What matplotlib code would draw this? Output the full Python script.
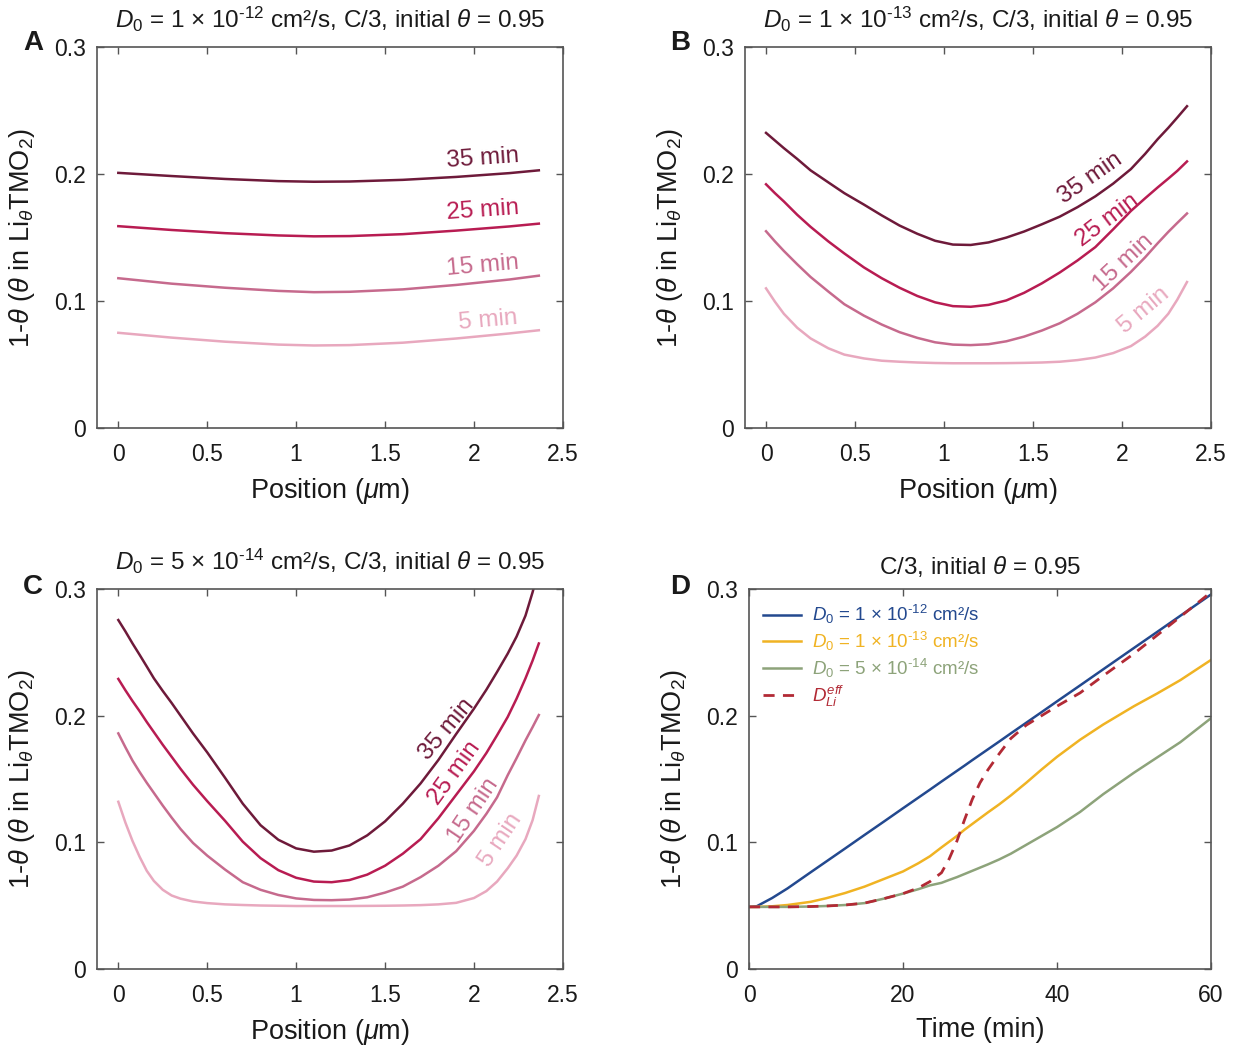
import matplotlib
matplotlib.use('Agg')
import matplotlib.pyplot as plt
import numpy as np

plt.rcParams['font.family'] = ['Liberation Sans', 'DejaVu Sans']
plt.rcParams['mathtext.fontset'] = 'custom'
plt.rcParams['mathtext.rm'] = 'Liberation Sans'
plt.rcParams['mathtext.it'] = 'Liberation Sans:italic'
plt.rcParams['mathtext.bf'] = 'Liberation Sans:bold'

# ---- data ----
times = ['35 min', '25 min', '15 min', '5 min']
colors = ['#6e1a3a', '#b81c52', '#c66a8d', '#e8a8be']

# panel A: D0 = 1e-12
xA = [0, 0.3, 0.6, 0.9, 1.1, 1.3, 1.6, 1.9, 2.2, 2.365]
yA_35 = [0.201, 0.1985, 0.1962, 0.1945, 0.194, 0.1942, 0.1955, 0.1978, 0.2008, 0.203]
yA_25 = [0.159, 0.156, 0.1535, 0.1517, 0.151, 0.1512, 0.1527, 0.1555, 0.1588, 0.161]
yA_15 = [0.118, 0.1137, 0.1105, 0.108, 0.107, 0.1073, 0.1092, 0.1127, 0.117, 0.120]
yA_5 = [0.075, 0.0712, 0.068, 0.0657, 0.065, 0.0653, 0.0672, 0.0705, 0.0745, 0.077]

# panel B: D0 = 1e-13
xB = [0, 0.05, 0.1, 0.175, 0.25, 0.35, 0.44, 0.55, 0.65, 0.75, 0.85, 0.95, 1.05, 1.15,
      1.25, 1.35, 1.45, 1.55, 1.65, 1.75, 1.85, 1.95, 2.05, 2.13, 2.2, 2.26, 2.31, 2.365]
yB_35 = [0.2325, 0.2265, 0.2205, 0.212, 0.203, 0.1935, 0.185, 0.176, 0.1675, 0.1595, 0.153, 0.1475, 0.1445, 0.1442,
         0.1462, 0.150, 0.1548, 0.1605, 0.1665, 0.174, 0.1825, 0.1925, 0.204, 0.216, 0.2275, 0.2365, 0.2445, 0.2535]
yB_25 = [0.192, 0.185, 0.1785, 0.168, 0.1585, 0.147, 0.1375, 0.1265, 0.118, 0.1105, 0.104, 0.099, 0.096, 0.0955,
         0.097, 0.1005, 0.1065, 0.114, 0.1225, 0.132, 0.1425, 0.1565, 0.171, 0.181, 0.1895, 0.1965, 0.2025, 0.210]
yB_15 = [0.155, 0.147, 0.1395, 0.129, 0.119, 0.1075, 0.0975, 0.0885, 0.0815, 0.0755, 0.071, 0.0675, 0.0657, 0.0653,
         0.066, 0.0683, 0.072, 0.0768, 0.0825, 0.090, 0.099, 0.110, 0.123, 0.1345, 0.1455, 0.1545, 0.1615, 0.169]
yB_5 = [0.110, 0.0995, 0.090, 0.079, 0.0706, 0.0628, 0.0578, 0.0548, 0.053, 0.0522, 0.0516, 0.0512, 0.051, 0.051,
        0.051, 0.0511, 0.0513, 0.0516, 0.0522, 0.0535, 0.0555, 0.059, 0.0645, 0.072, 0.0805, 0.090, 0.101, 0.115]

# panel C: D0 = 5e-14
xC = [0, 0.04, 0.08, 0.12, 0.16, 0.2, 0.25, 0.3, 0.35, 0.42, 0.5, 0.6, 0.7, 0.8, 0.9, 1.0, 1.1,
      1.2, 1.3, 1.4, 1.5, 1.6, 1.7, 1.8, 1.9, 2.0, 2.07, 2.13, 2.19, 2.24, 2.29, 2.33, 2.365]
yC_35 = [0.2755, 0.2665, 0.257, 0.248, 0.2388, 0.2295, 0.2195, 0.21, 0.20, 0.186, 0.171, 0.151, 0.1305, 0.1135, 0.102, 0.0952, 0.0926,
         0.0935, 0.0975, 0.1055, 0.1165, 0.1305, 0.1465, 0.165, 0.1855, 0.2055, 0.2205, 0.2345, 0.249, 0.2625, 0.279, 0.2975, 0.316]
yC_25 = [0.229, 0.220, 0.2115, 0.2035, 0.195, 0.187, 0.177, 0.1675, 0.158, 0.1455, 0.1325, 0.117, 0.1005, 0.0875, 0.078, 0.072, 0.069,
         0.0685, 0.0702, 0.0745, 0.0815, 0.091, 0.1025, 0.119, 0.1375, 0.156, 0.1705, 0.1845, 0.199, 0.2135, 0.2295, 0.2435, 0.257]
yC_15 = [0.186, 0.175, 0.1645, 0.1555, 0.147, 0.139, 0.129, 0.1195, 0.1105, 0.0995, 0.0895, 0.0785, 0.0685, 0.0625, 0.0584, 0.0557, 0.0545,
         0.0543, 0.0548, 0.0566, 0.0603, 0.065, 0.0725, 0.0815, 0.093, 0.109, 0.1225, 0.1355, 0.153, 0.1665, 0.1805, 0.191, 0.2005]
yC_5 = [0.132, 0.1155, 0.101, 0.0885, 0.0775, 0.0695, 0.0625, 0.058, 0.0555, 0.0533, 0.052, 0.051, 0.0505, 0.0501, 0.0499, 0.0497, 0.0497,
        0.0497, 0.0497, 0.0498, 0.0499, 0.0501, 0.0504, 0.051, 0.0522, 0.056, 0.0615, 0.069, 0.0795, 0.0895, 0.1025, 0.1175, 0.1366]

# panel D: time evolution (min)
tD = [0, 1, 3, 5, 8, 10, 12.5, 15, 17.5, 20, 22, 23.5, 25, 26, 27, 28, 29, 30, 31, 32.5,
      34, 36, 38, 40, 43, 46, 50, 53, 56, 60]
yD_12 = [0.049, 0.0495, 0.056, 0.0636, 0.0763, 0.0847, 0.0952, 0.1058, 0.1163, 0.1269, 0.1353, 0.1416, 0.148, 0.1522,
         0.1564, 0.1606, 0.1649, 0.1691, 0.1733, 0.1796, 0.186, 0.1944, 0.2028, 0.2113, 0.2239, 0.2366, 0.2535, 0.2661, 0.2788, 0.2957]
yD_13 = [0.049, 0.049, 0.0495, 0.0505, 0.053, 0.0558, 0.060, 0.065, 0.071, 0.077, 0.0835, 0.089, 0.096, 0.1005,
         0.105, 0.110, 0.1145, 0.119, 0.1235, 0.130, 0.137, 0.147, 0.1575, 0.1675, 0.181, 0.193, 0.2075, 0.2175, 0.228, 0.244]
yD_514 = [0.049, 0.049, 0.049, 0.049, 0.0493, 0.0497, 0.0505, 0.052, 0.0555, 0.0595, 0.063, 0.066, 0.068, 0.0703,
          0.0725, 0.075, 0.0775, 0.080, 0.0825, 0.0865, 0.091, 0.098, 0.105, 0.112, 0.124, 0.138, 0.155, 0.167, 0.179, 0.198]
yD_eff = [0.049, 0.049, 0.049, 0.049, 0.0493, 0.0497, 0.0505, 0.052, 0.0555, 0.0595, 0.064, 0.069, 0.076, 0.087,
          0.101, 0.118, 0.134, 0.147, 0.157, 0.170, 0.182, 0.1925, 0.200, 0.2075, 0.218, 0.2315, 0.249, 0.2635, 0.278, 0.2975]

ylab = r'1-$\mathit{\theta}$ ($\mathit{\theta}$ in Li$_{\mathit{\theta}}$TMO$_2$)'
th = r'$\mathit{\theta}$'
titles = [r'$D_{\mathit{0}}$ = 1 × 10$^{‐12}$ cm²/s, C/3, initial ' + th + ' = 0.95',
          r'$D_{\mathit{0}}$ = 1 × 10$^{‐13}$ cm²/s, C/3, initial ' + th + ' = 0.95',
          r'$D_{\mathit{0}}$ = 5 × 10$^{‐14}$ cm²/s, C/3, initial ' + th + ' = 0.95',
          'C/3, initial ' + th + ' = 0.95']

fig = plt.figure(figsize=(12.37, 10.49), dpi=100)
axA = fig.add_axes([0.0784, 0.592, 0.3766, 0.363])
axB = fig.add_axes([0.602, 0.592, 0.377, 0.363])
axC = fig.add_axes([0.0784, 0.0763, 0.3766, 0.3622])
axD = fig.add_axes([0.6055, 0.0763, 0.3735, 0.3622])

edge = '#555555'
ink = '#1a1a1a'
def style(ax):
    for s in ax.spines.values():
        s.set_color(edge)
        s.set_linewidth(1.2)
    ax.tick_params(direction='in', top=True, right=True, length=5, width=1,
                   color=edge, labelsize=16.5, labelcolor=ink)
    ax.tick_params(axis='x', pad=11)
    ax.tick_params(axis='y', pad=8)
    ax.set_ylim(0, 0.3)
    ax.set_yticks([0, 0.1, 0.2, 0.3])
    ax.set_yticklabels(['0', '0.1', '0.2', '0.3'])
    ax.set_ylabel(ylab, fontsize=19.5, labelpad=12, color=ink)

# label positions / rotations for the position panels
lab_A = [(2.05, 0.212, 4), (2.05, 0.171, 4), (2.05, 0.1276, 5), (2.08, 0.085, 5)]
lab_B = [(1.82, 0.197, 35), (1.92, 0.1638, 37), (2.01, 0.1305, 43), (2.12, 0.093, 40)]
lab_C = [(1.847, 0.1894, 50), (1.893, 0.1545, 54), (1.996, 0.1255, 56), (2.15, 0.1018, 56)]

panels = [(axA, xA, [yA_35, yA_25, yA_15, yA_5], lab_A),
          (axB, xB, [yB_35, yB_25, yB_15, yB_5], lab_B),
          (axC, xC, [yC_35, yC_25, yC_15, yC_5], lab_C)]

for i, (ax, x, ys, labs) in enumerate(panels):
    for y, c, t, (lx, ly, rot) in zip(ys, colors, times, labs):
        ax.plot(x, y, color=c, lw=1.8, solid_joinstyle='round')
        ax.text(lx, ly, t, color=c, fontsize=17.5, rotation=rot,
                ha='center', va='center', rotation_mode='anchor')
    style(ax)
    ax.set_xlim(-0.12, 2.5)
    ax.set_xticks([0, 0.5, 1, 1.5, 2, 2.5])
    ax.set_xticklabels(['0', '0.5', '1', '1.5', '2', '2.5'])
    ax.set_xlabel(r'Position ($\mathit{\mu}$m)', fontsize=19.5, color=ink, labelpad=7)
    ax.set_title(titles[i], fontsize=17.5, pad=14, color=ink)

# panel D
axD.plot(tD, yD_12, color='#23498f', lw=1.8,
         label=r'$D_{\mathit{0}}$ = 1 × 10$^{‐12}$ cm²/s')
axD.plot(tD, yD_13, color='#f0b323', lw=1.8,
         label=r'$D_{\mathit{0}}$ = 1 × 10$^{‐13}$ cm²/s')
axD.plot(tD, yD_514, color='#8da37a', lw=1.8,
         label=r'$D_{\mathit{0}}$ = 5 × 10$^{‐14}$ cm²/s')
axD.plot(tD, yD_eff, color='#b22a35', lw=2.0, ls=(0, (4, 3)),
         label=r'$D^{eff}_{Li}$')
style(axD)
axD.set_xlim(0, 60)
axD.set_xticks([0, 20, 40, 60])
axD.set_xlabel('Time (min)', fontsize=19.5, color=ink, labelpad=7)
axD.set_title(titles[3], fontsize=17.5, pad=11, color=ink)
leg = axD.legend(loc='upper left', frameon=False, fontsize=13.5,
                 handlelength=2.0, handletextpad=0.6, borderaxespad=0.35,
                 labelspacing=0.2)
for txt, ln in zip(leg.get_texts(), leg.get_lines()):
    txt.set_color(ln.get_color())

for letter, (px, py) in zip('ABCD', [(33, 43), (680, 43), (33, 587), (680, 587)]):
    fig.text(px / 1237, 1 - py / 1049, letter, fontsize=20, fontweight='bold',
             ha='center', va='center', color=ink)

fig.savefig('out.png', dpi=100)
